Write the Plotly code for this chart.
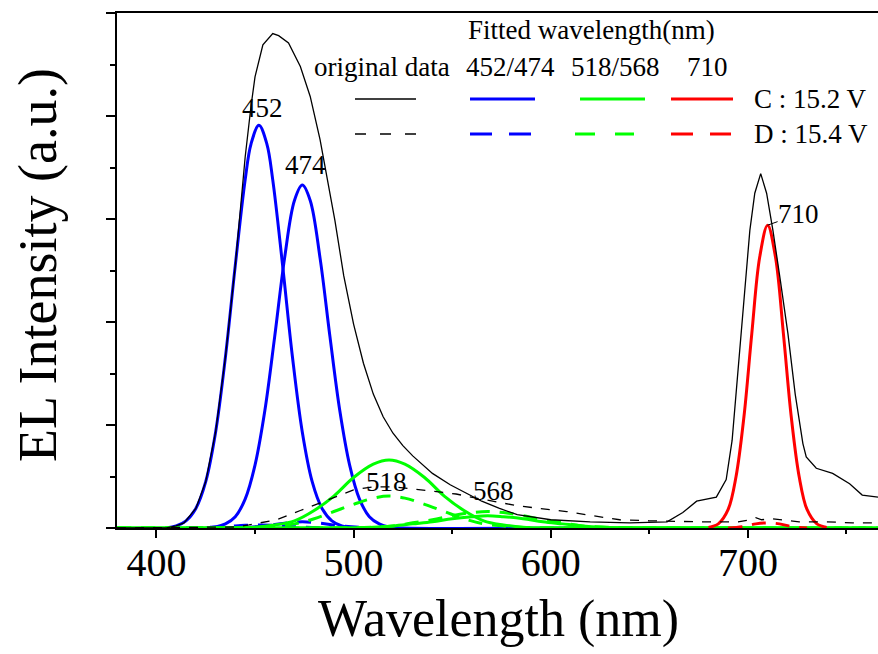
import plotly.graph_objects as go

SERIF = "Liberation Serif, Times New Roman, serif"

# ---- measured spectra (wavelength in nm, EL intensity in a.u.) ----
orig_c_nm = [380, 405, 410, 414, 420, 425, 430, 435, 440, 442, 445, 448, 450, 454, 459, 462,
             467, 473, 478, 483, 488, 490.5, 495, 500, 505, 510, 515, 520, 525, 530, 540, 549,
             557, 565, 574, 583, 600, 620, 640, 659, 667, 674, 684, 689, 692, 696.6, 701,
             703.5, 706.5, 709.5, 712.7, 716.5, 720.3, 724, 727.9, 729.6, 734.7, 743, 751.6,
             758, 766]
orig_c_int = [0, 0, 0.02, 0.05, 0.19, 0.45, 0.93, 1.66, 2.55, 2.95, 3.6, 4.1, 4.38, 4.69, 4.80,
              4.78, 4.71, 4.48, 4.19, 3.77, 3.25, 2.99, 2.45, 1.98, 1.6, 1.3, 1.08, 0.92, 0.8,
              0.7, 0.53, 0.42, 0.34, 0.26, 0.19, 0.13, 0.08, 0.06, 0.05, 0.06, 0.15, 0.26, 0.30,
              0.47, 0.85, 1.89, 2.89, 3.25, 3.44, 3.25, 2.89, 2.4, 1.89, 1.3, 0.82, 0.69, 0.58,
              0.53, 0.43, 0.32, 0.30]

orig_d_nm = [380, 440, 447, 461, 473, 486, 500, 510, 520, 530, 542, 552, 565, 582, 594, 608,
             621, 635, 650, 675, 695, 701, 704, 707, 712, 717, 726, 740, 753, 766]
orig_d_int = [0, 0.01, 0.03, 0.08, 0.17, 0.27, 0.37, 0.40, 0.40, 0.38, 0.35, 0.33, 0.28, 0.22,
              0.19, 0.16, 0.12, 0.08, 0.07, 0.06, 0.06, 0.08, 0.10, 0.08, 0.09, 0.08, 0.06,
              0.06, 0.05, 0.05]

# ---- fitted peaks ----
blue_452_c_nm = [405, 410, 415, 420, 425, 430, 435, 440, 445, 448, 452, 456, 459, 464, 469,
                 474, 479, 484, 489, 494, 500]
blue_452_c_int = [0, 0.02, 0.07, 0.19, 0.45, 0.93, 1.66, 2.55, 3.38, 3.73, 3.91, 3.73, 3.38,
                  2.55, 1.66, 0.93, 0.45, 0.19, 0.07, 0.02, 0]

blue_474_c_nm = [425, 430, 435, 440, 445, 450, 455, 460, 465, 470, 474, 478, 483, 488, 493,
                 498, 503, 508, 513, 518, 525, 612]
blue_474_c_int = [0, 0.01, 0.04, 0.11, 0.28, 0.61, 1.14, 1.86, 2.62, 3.18, 3.33, 3.18, 2.62,
                  1.86, 1.14, 0.61, 0.28, 0.11, 0.04, 0.01, 0, 0]

blue_452_d_nm = [415, 425, 435, 445, 452, 459, 469, 479, 489]
blue_452_d_int = [0, 0.005, 0.013, 0.026, 0.03, 0.026, 0.013, 0.005, 0]
blue_474_d_nm = [435, 445, 455, 465, 474, 483, 493, 503, 513]
blue_474_d_int = [0, 0.006, 0.021, 0.047, 0.06, 0.047, 0.021, 0.006, 0]

green_518_c_nm = [380, 440, 450, 460, 470, 480, 490, 500, 510, 518, 526, 536, 546, 556, 566,
                  576, 586, 596, 766]
green_518_c_int = [0, 0.002, 0.008, 0.03, 0.07, 0.17, 0.31, 0.49, 0.62, 0.66, 0.62, 0.49,
                   0.31, 0.17, 0.07, 0.03, 0.008, 0.002, 0]
green_518_d_nm = [380, 450, 460, 470, 480, 490, 500, 510, 518, 526, 536, 546, 556, 566, 576,
                  586, 766]
green_518_d_int = [0, 0.006, 0.02, 0.04, 0.09, 0.16, 0.23, 0.29, 0.31, 0.29, 0.23, 0.16, 0.09,
                   0.04, 0.02, 0.006, 0]

green_568_nm = [380, 500, 510, 520, 530, 540, 550, 560, 568, 576, 586, 596, 606, 616, 626, 636,
                766]
green_568_c_int = [0, 0.003, 0.008, 0.02, 0.04, 0.06, 0.09, 0.11, 0.12, 0.11, 0.09, 0.06, 0.04,
                   0.02, 0.008, 0.003, 0]
green_568_d_int = [0, 0.003, 0.009, 0.02, 0.05, 0.08, 0.12, 0.15, 0.16, 0.15, 0.12, 0.08, 0.05,
                   0.02, 0.009, 0.003, 0]

red_710_c_nm = [680, 685, 690, 694, 698, 702, 706, 710, 714, 718, 722, 726, 730, 735, 740]
red_710_c_int = [0.006, 0.04, 0.18, 0.50, 1.08, 1.89, 2.63, 2.94, 2.63, 1.89, 1.08, 0.50, 0.18,
                 0.04, 0.006]
red_710_d_nm = [690, 698, 704, 710, 716, 722, 730]
red_710_d_int = [0, 0.015, 0.04, 0.05, 0.04, 0.015, 0]

x_ticks = [400, 500, 600, 700]
x_minor = [450, 550, 650, 750]
y_ticks = [0, 1, 2, 3, 4, 5]
y_minor = [0.5, 1.5, 2.5, 3.5, 4.5]

BLUE, GREEN, RED, BLACK = "#0000ff", "#00ff00", "#ff0000", "#000000"
FIT_DASH = "14px,10px"
ORIG_DASH = "9px,9px"

fig = go.Figure()


def curve(x, y, color, width, dash="solid", shape="spline"):
    fig.add_trace(go.Scatter(x=x, y=y, mode="lines",
                             line=dict(color=color, width=width, dash=dash, shape=shape),
                             showlegend=False, hoverinfo="skip"))


curve(blue_452_d_nm, blue_452_d_int, BLUE, 3, FIT_DASH)
curve(blue_474_d_nm, blue_474_d_int, BLUE, 3, FIT_DASH)
curve(blue_452_c_nm, blue_452_c_int, BLUE, 3)
curve(blue_474_c_nm, blue_474_c_int, BLUE, 3)
curve(green_518_d_nm, green_518_d_int, GREEN, 3, FIT_DASH)
curve(green_568_nm, green_568_d_int, GREEN, 3, FIT_DASH)
curve(green_518_c_nm, green_518_c_int, GREEN, 3)
curve(green_568_nm, green_568_c_int, GREEN, 3)
curve(red_710_d_nm, red_710_d_int, RED, 3, FIT_DASH)
curve(red_710_c_nm, red_710_c_int, RED, 3)
curve(orig_d_nm, orig_d_int, BLACK, 1.3, ORIG_DASH, "linear")
curve(orig_c_nm, orig_c_int, BLACK, 1.3, "solid", "linear")

# ---- plot-area geometry (pixels) used to place the key block ----
L, R, T, B = 117, 878, 13, 528


def px(x):
    return (x - L) / (R - L)


def py(y):
    return (B - y) / (B - T)


annotations = []
shapes = []


def text(x, y, s, size=27, anchor="center"):
    annotations.append(dict(x=px(x), y=py(y), xref="paper", yref="paper", text=s,
                            showarrow=False, xanchor=anchor, yanchor="middle",
                            font=dict(family=SERIF, size=size, color="black")))


def key_line(x0, x1, y, color, width, dash="solid"):
    shapes.append(dict(type="line", xref="paper", yref="paper", x0=px(x0), x1=px(x1),
                       y0=py(y), y1=py(y), line=dict(color=color, width=width, dash=dash)))


# key block
text(591, 30, "Fitted wavelength(nm)")
text(382, 67, "original data")
text(511, 67, "452/474")
text(615, 67, "518/568")
text(707, 67, "710")
row_c, row_d = 99, 134
key_line(355, 416, row_c, BLACK, 1.5)
key_line(470, 535, row_c, BLUE, 3)
key_line(580, 645, row_c, GREEN, 3)
key_line(671, 733, row_c, RED, 3)
key_line(355, 416, row_d, BLACK, 1.5, "11px,14px")
key_line(470, 531, row_d, BLUE, 3, "22px,17px")
key_line(575, 634, row_d, GREEN, 3, "20px,20px")
key_line(671, 731, row_d, RED, 3, "22px,17px")
text(752, row_c, "C : 15.2 V", anchor="left")
text(752, row_d, "D : 15.4 V", anchor="left")

# peak labels, attached to the fitted maxima
peak_labels = [
    (452, 3.91, "452", 4, 17),
    (474, 3.33, "474", 3, 20),
    (518, 0.66, "518", -3, -22),
    (568, 0.12, "568", 6, 25),
]
for xv, yv, s, dx, dy in peak_labels:
    annotations.append(dict(x=xv, y=yv, xref="x", yref="y", text=s, showarrow=False,
                            xshift=dx, yshift=dy,
                            font=dict(family=SERIF, size=27, color="black")))
annotations.append(dict(x=710, y=2.94, xref="x", yref="y", text="710", showarrow=True,
                        arrowhead=0, arrowwidth=1, arrowcolor="black", ax=31, ay=-11,
                        standoff=0, borderpad=0,
                        font=dict(family=SERIF, size=27, color="black")))

# axis titles
annotations.append(dict(x=px(498), y=py(619), xref="paper", yref="paper",
                        text="Wavelength (nm)", showarrow=False, xanchor="center",
                        yanchor="middle", font=dict(family=SERIF, size=52, color="black")))
annotations.append(dict(x=px(38), y=py(265), xref="paper", yref="paper",
                        text="EL Intensity (a.u.)", showarrow=False, textangle=-90,
                        xanchor="center", yanchor="middle",
                        font=dict(family=SERIF, size=54, color="black")))

fig.update_layout(
    width=878, height=654, autosize=False,
    margin=dict(l=L, r=878 - R, t=T, b=654 - B, pad=0),
    paper_bgcolor="white", plot_bgcolor="white", showlegend=False,
    font=dict(family=SERIF, color="black"),
    annotations=annotations, shapes=shapes,
)
fig.update_xaxes(
    range=[380, 766], tickmode="array", tickvals=x_ticks, ticktext=[str(v) for v in x_ticks],
    ticks="outside", ticklen=8, tickwidth=1.5, tickcolor="black", ticklabelstandoff=-10,
    showline=True, linewidth=2, linecolor="black", mirror=True,
    showgrid=False, zeroline=False, tickfont=dict(family=SERIF, size=40, color="black"),
    minor=dict(tickmode="array", tickvals=x_minor, ticks="outside", ticklen=4, tickwidth=1.5,
               tickcolor="black", showgrid=False),
)
fig.update_yaxes(
    range=[0, 5], tickmode="array", tickvals=y_ticks, ticks="outside", ticklen=9,
    tickwidth=1.5, tickcolor="black", showticklabels=False,
    showline=True, linewidth=2, linecolor="black", mirror=False,
    showgrid=False, zeroline=False,
    minor=dict(tickmode="array", tickvals=y_minor, ticks="outside", ticklen=5, tickwidth=1.5,
               tickcolor="black", showgrid=False),
)

fig.write_html("out.html")
